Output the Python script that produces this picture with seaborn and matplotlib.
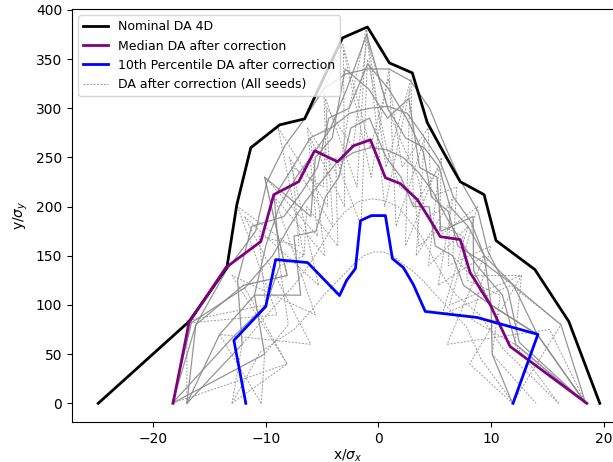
import matplotlib
matplotlib.use("Agg")
import matplotlib.pyplot as plt
import seaborn as sns

# ---------------- data ----------------
nominal_x = [-24.87, -16.81, -13.45, -12.57, -11.33, -8.76, -6.55, -4.9, -3.19, -0.97,
             0.97, 3.01, 4.34, 5.75, 7.26, 9.38, 10.44, 13.89, 16.9, 19.65]
nominal_y = [0, 83.2, 138.1, 202.0, 259.9, 283.2, 289.3, 330.0, 371.6, 382.7,
             346.2, 336.0, 285.3, 255.8, 225.4, 212.2, 165.5, 136.0, 83.2, 0]

median_x = [-18.23, -16.81, -13.54, -10.44, -9.29, -7.08, -5.66, -3.63, -2.21, -0.71,
            0.62, 1.95, 3.45, 4.35, 5.49, 7.26, 8.14, 9.91, 11.68, 18.5]
median_y = [0, 82.2, 138.1, 164.5, 212.2, 225.4, 256.9, 245.7, 261.9, 268.0,
            229.4, 223.4, 207.1, 191.0, 169.5, 166.5, 133.0, 100.5, 57.9, 0]

p10_x = [-11.77, -12.83, -10.0, -9.12, -6.28, -3.45, -2.83, -2.04, -1.59, -0.62,
         0.62, 1.24, 2.21, 3.10, 4.16, 8.76, 14.16, 11.95]
p10_y = [0, 64.0, 98.5, 146.2, 143.1, 109.6, 124.9, 137.1, 185.8, 190.9,
         190.9, 147.2, 138.1, 120.8, 93.4, 87.3, 70.1, 0]

# individual seeds (solid-looking ones)
seedA_x = [-18.3, -16.2, -13.5, -10.9, -9.9, -8.3, -6.5, -4.85, -2.9, -0.95, 0.95, 2.85, 4.55, 5.9, 7.2, 8.85, 9.7, 11.5, 12.5, 18.4]
seedA_y = [0, 80, 135, 175, 225, 262, 290, 320, 335, 340, 340, 328, 300, 262, 228, 195, 155, 115, 62, 0]
seedB_x = [-17.0, -14.1, -11.0, -10.0, -8.8, -7.3, -5.7, -4.2, -2.55, -0.83, 0.84, 2.55, 4.1, 5.5, 6.65, 8.2, 9.4, 12.0, 14.1, 18.4]
seedB_y = [0, 70, 110, 160, 200, 230, 255, 280, 295, 300, 302, 295, 270, 245, 210, 185, 150, 120, 70, 0]
seedC_x = [-18.3, -16.6, -11.8, -9.4, -7.9, -6.5, -5.1, -3.7, -2.2, -0.72, 0.72, 2.2, 3.55, 4.85, 6.0, 7.3, 8.75, 11.0, 12.2, 18.4]
seedC_y = [0, 82, 118, 150, 180, 205, 225, 245, 255, 260, 258, 250, 235, 215, 190, 165, 140, 110, 60, 0]
seedH_x = [-17.0, -16.2, -12.0, -8.1, -10.1, -6.0, -5.6, -4.1, -2.95, -0.89, 0.81, 2.7, 3.65, 5.2, 5.55, 8.4, 8.45, 10.0, 14.1, 18.4]
seedH_y = [0, 80, 120, 130, 230, 190, 250, 270, 340, 320, 290, 310, 240, 230, 175, 190, 135, 100, 70, 0]
seedJ_x = [-18.3, -10.1, -11.0, -6.9, -7.5, -5.55, -4.7, -3.5, -2.45, -0.8, 0.69, 2.0, 3.1, 4.5, 5.05, 6.6, 7.55, 10.0, 14.1, 11.9]
seedJ_y = [0, 50, 110, 110, 170, 175, 210, 230, 280, 290, 250, 230, 200, 200, 160, 150, 120, 100, 70, 0]
seedL_x = [-17.0, -12.1, -12.5, -11.25, -8.4, -6.8, -5.4, -4.4, -2.6, -0.96, 0.89, 2.5, 4.0, 4.7, 6.2, 7.05, 9.1, 12.0, 16.2, 18.4]
seedL_y = [0, 60, 125, 180, 190, 215, 240, 290, 300, 345, 320, 290, 255, 210, 195, 160, 145, 120, 80, 0]
seedO_x = [-18.3, -13.1, -10.0, -8.75, -9.25, -7.6, -6.05, -4.25, -2.8, -1.04, 0.83, 2.4, 4.05, 5.4, 6.35, 7.95, 9.4, 10.0, 10.1, 11.9]
seedO_y = [0, 65, 100, 140, 210, 240, 270, 280, 320, 375, 300, 270, 260, 240, 200, 180, 150, 100, 50, 0]

# individual seeds (dashed ones)
seedD_x = [-13.0, -12.1, -9.5, -7.5, -6.2, -5.1, -4.05, -2.95, -1.8, -0.58, 0.57, 1.74, 2.8, 3.8, 4.75, 5.7, 6.9, 9.0, 11.1, 16.0]
seedD_y = [0, 60, 95, 120, 140, 160, 180, 195, 205, 208, 206, 200, 185, 170, 150, 130, 110, 90, 55, 0]
seedE_x = [-13.0, -10.5, -7.5, -5.9, -4.85, -3.85, -2.97, -2.15, -1.3, -0.43, 0.43, 1.3, 2.15, 3.0, 3.95, 4.95, 6.1, 7.8, 9.1, 12.0]
seedE_y = [0, 52, 75, 95, 110, 122, 132, 142, 150, 154, 154, 150, 142, 135, 125, 112, 98, 78, 45, 0]
seedF_x = [-18.3, -8.1, -13.0, -5.6, -9.25, -4.75, -6.05, -3.0, -3.1, -0.64, 0.94, 1.57, 4.1, 3.35, 6.65, 5.3, 9.4, 6.1, 15.2, 18.4]
seedF_y = [0, 40, 130, 90, 210, 150, 270, 200, 360, 230, 340, 180, 270, 150, 210, 120, 150, 60, 75, 0]
seedG_x = [-10.4, -14.1, -6.0, -11.9, -5.3, -7.9, -4.05, -4.7, -1.9, -1.06, 0.56, 2.8, 2.4, 5.6, 5.4, 8.8, 6.3, 12.7, 8.1, 11.9]
seedG_y = [0, 70, 60, 190, 120, 250, 180, 310, 220, 380, 200, 320, 160, 250, 170, 200, 100, 130, 40, 0]
seedI_x = [-17.0, -17.0, -10.0, -10.6, -7.05, -7.6, -4.9, -4.55, -2.25, -1.03, 0.83, 2.25, 3.5, 4.25, 6.35, 6.2, 10.0, 8.3, 12.1, 16.0]
seedI_y = [0, 84, 100, 170, 160, 240, 220, 300, 260, 370, 300, 260, 230, 190, 200, 140, 160, 85, 60, 0]
seedK_x = [-10.4, -10.1, -8.0, -8.75, -6.6, -6.35, -3.6, -3.8, -1.55, -0.97, 0.72, 1.9, 3.25, 3.6, 5.7, 7.5, 7.9, 10.8, 10.1, 14.0]
seedK_y = [0, 50, 80, 140, 150, 200, 160, 250, 180, 350, 260, 220, 210, 160, 180, 170, 125, 110, 50, 0]
seedM_x = [-18.3, -16.6, -9.0, -12.5, -6.6, -8.9, -4.5, -4.85, -3.15, -0.72, 0.92, 2.1, 4.4, 4.7, 6.95, 6.6, 8.2, 12.7, 12.1, 18.4]
seedM_y = [0, 82, 90, 200, 150, 280, 200, 320, 365, 260, 330, 240, 280, 210, 220, 150, 130, 130, 60, 0]
seedN_x = [-13.0, -8.1, -12.0, -8.1, -10.1, -5.4, -6.3, -3.5, -2.6, -1.06, 0.67, 2.9, 3.1, 5.4, 4.45, 7.95, 5.65, 11.8, 16.2, 11.9]
seedN_y = [0, 40, 120, 130, 230, 170, 280, 230, 300, 382, 240, 330, 200, 240, 140, 180, 90, 120, 80, 0]

solid_seeds = [(seedA_x, seedA_y), (seedB_x, seedB_y), (seedC_x, seedC_y),
               (seedH_x, seedH_y), (seedJ_x, seedJ_y), (seedL_x, seedL_y),
               (seedO_x, seedO_y)]
dashed_seeds = [(seedD_x, seedD_y), (seedE_x, seedE_y), (seedF_x, seedF_y),
                (seedG_x, seedG_y), (seedI_x, seedI_y), (seedK_x, seedK_y),
                (seedM_x, seedM_y), (seedN_x, seedN_y)]

# ---------------- plot ----------------
fig = plt.figure(figsize=(6.13, 4.62), dpi=100)
ax = fig.add_axes([72 / 613, 40 / 462, 552 / 613, 413 / 462])

sns.lineplot(x=nominal_x, y=nominal_y, sort=False, estimator=None, color="black",
             lw=2, label="Nominal DA 4D", ax=ax, zorder=3)
sns.lineplot(x=median_x, y=median_y, sort=False, estimator=None, color="purple",
             lw=2, label="Median DA after correction", ax=ax, zorder=4)
sns.lineplot(x=p10_x, y=p10_y, sort=False, estimator=None, color="blue",
             lw=2, label="10th Percentile DA after correction", ax=ax, zorder=5)

for i, (sx, sy) in enumerate(dashed_seeds):
    sns.lineplot(x=sx, y=sy, sort=False, estimator=None, color="#9a9a9a", lw=0.7,
                 linestyle=(0, (2, 1.5)), ax=ax, zorder=1,
                 label="DA after correction (All seeds)" if i == 0 else None)
for sx, sy in solid_seeds:
    sns.lineplot(x=sx, y=sy, sort=False, estimator=None, color="#8a8a8a", lw=0.9,
                 ax=ax, zorder=2, alpha=0.9)

ax.set_xlim(-27.2, 21.8)
ax.set_ylim(-19, 401)
ax.set_xlabel(r"x/$\sigma_x$", labelpad=1)
ax.set_ylabel(r"y/$\sigma_y$")
ax.legend(loc="upper left", fontsize=9)

fig.savefig("out.png", dpi=100)
